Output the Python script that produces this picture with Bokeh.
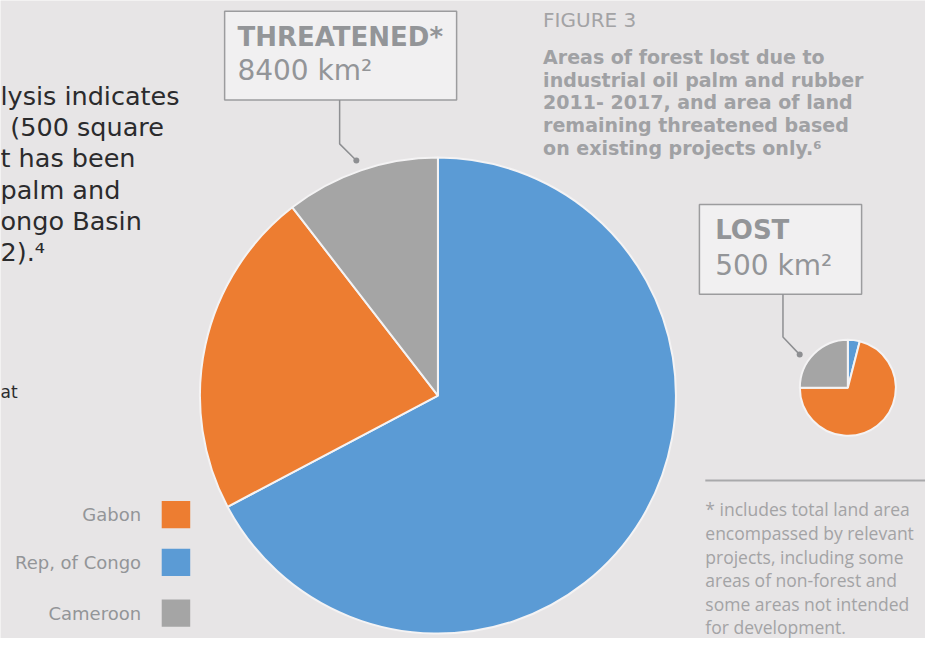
import numpy as np
from bokeh.plotting import figure
from bokeh.models import Range1d, ColumnDataSource
from bokeh.core.properties import value
from bokeh.embed import file_html
from bokeh.resources import INLINE

# ---------------- data ----------------
countries = ["Gabon", "Rep, of Congo", "Cameroon"]
country_colors = ["#ED7D31", "#5B9BD5", "#A5A5A5"]
threatened_km2 = [1870, 5650, 880]     # Gabon, Rep. of Congo, Cameroon
lost_km2 = [355, 20, 125]              # Gabon, Rep. of Congo, Cameroon
pie_order = ["Rep, of Congo", "Gabon", "Cameroon"]   # clockwise from 12 o'clock

threatened_label = ["THREATENED*", "8400 km²"]
lost_label = ["LOST", "500 km²"]
figure_title = "FIGURE 3"
caption_lines = ["Areas of forest lost due to",
                 "industrial oil palm and rubber",
                 "2011- 2017, and area of land",
                 "remaining threatened based",
                 "on existing projects only.⁶"]
body_lines = ["lysis indicates", "(500 square", "t has been",
              "palm and", "ongo Basin", "2).⁴"]
body_tail = "at"
footnote_lines = ["* includes total land area",
                  "encompassed by relevant",
                  "projects, including some",
                  "areas of non-forest and",
                  "some areas not intended",
                  "for development."]

# ---------------- layout ----------------
W, H = 941, 654
BG = "#E7E5E6"
GREY_TXT = "#939598"


def Y(v):
    return H - v


p = figure(width=925, height=638, output_backend="svg", toolbar_location=None,
           x_range=Range1d(0, W), y_range=Range1d(0, H), min_border=0)
p.axis.visible = False
p.grid.visible = False
p.outline_line_color = None
p.background_fill_color = BG
p.border_fill_color = BG


def txt(xs, bases, texts, size, color, style="normal", font="DejaVu Sans",
        align="left", k=0.34):
    # place by baseline: convert to the middle of the line
    ys = [Y(b - k * size) for b in bases]
    p.text(x=xs, y=ys, text=texts,
           text_font=value(font), text_font_size=f"{size}px",
           text_font_style=style, text_color=color, text_align=align,
           text_baseline="middle")


def pie(cx, cy, r, vals):
    idx = [countries.index(c) for c in pie_order]
    v = np.array([vals[i] for i in idx], dtype=float)
    frac = v / v.sum()
    cum = np.concatenate([[0.0], np.cumsum(frac)])
    src = ColumnDataSource(dict(
        start=np.pi / 2 - cum[:-1] * 2 * np.pi,
        end=np.pi / 2 - cum[1:] * 2 * np.pi,
        color=[country_colors[i] for i in idx]))
    p.wedge(x=cx, y=Y(cy), radius=r, radius_units="screen",
            start_angle="start", end_angle="end", direction="clock",
            fill_color="color", line_color="#F4F3F4", line_width=2, source=src)


# pies
pie(445, 405, 238, threatened_km2)
pie(862, 397, 48, lost_km2)


# callout boxes
def callout(l, r, t, b, lines, tx, base1, base2, leader_x, leader_y, dot):
    p.quad(left=l, right=r, top=Y(t), bottom=Y(b), fill_color="#F1F0F1",
           line_color="#9C9C9E", line_width=1.5)
    txt([tx], [base1], [lines[0]], 26, GREY_TXT, style="bold", k=0.38)
    txt([tx], [base2], [lines[1]], 28, GREY_TXT, k=0.36)
    p.line(x=[leader_x, leader_x, dot[0]], y=[Y(b), Y(leader_y), Y(dot[1])],
           line_color="#8E8F92", line_width=1.5)
    p.scatter(x=[dot[0]], y=[Y(dot[1])], size=6, fill_color="#8E8F92",
              line_color=None)


callout(228, 464, 11, 102, threatened_label, 241, 47, 82, 345, 147, (362, 164))
callout(711, 876, 209, 301, lost_label, 727, 245, 282, 796, 345, (813, 363))

# figure title + caption
txt([552], [27], [figure_title], 20, "#A3A3A5", k=0.36)
txt([552] * 5, [64, 87.5, 111, 134.5, 158], caption_lines, 19, "#A0A1A4",
    style="bold")

# body text (cropped paragraph)
txt([0, 10, 0, 0, 0, 0], [107, 139, 171, 203, 235, 267], body_lines, 25.5,
    "#2B2B2D", k=0.36)
txt([0], [407], [body_tail], 17, "#2B2B2D")

# legend
leg_y = [527, 576, 628]
for c, col, yc in zip(countries, country_colors, leg_y):
    p.quad(left=164, right=193, top=Y(yc - 14), bottom=Y(yc + 14),
           fill_color=col, line_color=None)
p.text(x=[143] * 3, y=[Y(v) for v in leg_y], text=countries,
       text_font=value("DejaVu Sans"), text_font_size="18px",
       text_color=GREY_TXT, text_align="right", text_baseline="middle")

# footnote
p.segment(x0=717, y0=Y(492), x1=W, y1=Y(492), line_color="#A9A9AB",
          line_width=2)
txt([717] * 6, [527, 551, 575.5, 599.5, 623.5, 647], footnote_lines, 17.5,
    "#A3A3A5", font="Open Sans", k=0.3)

open("out.html", "w").write(file_html(p, INLINE))
